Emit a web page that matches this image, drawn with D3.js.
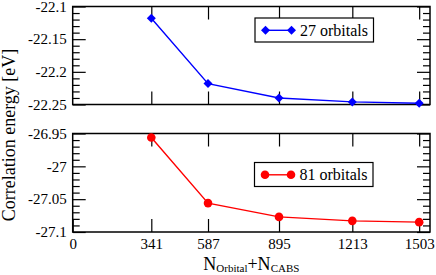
<!DOCTYPE html>
<html>
<head>
<meta charset="utf-8">
<script src="https://cdn.jsdelivr.net/npm/d3@7"></script>
<style>
  body { margin: 0; background: #fff; }
  svg { display: block; }
  text { font-family: "Liberation Serif", "DejaVu Serif", serif; fill: #000; }
</style>
</head>
<body>
<div id="chart"></div>
<script>
var svgWidth = 436;
var svgHeight = 275;

// x values (N_Orbital + N_CABS)
var basis = [341, 587, 895, 1213, 1503];
var xTicks = [0, 341, 587, 895, 1213, 1503];

// correlation energies [eV]
var e27 = [-22.118, -22.218, -22.240, -22.246, -22.248];
var e81 = [-26.956, -27.056, -27.077, -27.083, -27.085];

var topMajor = [-22.25, -22.2, -22.15, -22.1];
var topMinor = [-22.24, -22.23, -22.22, -22.21, -22.19, -22.18, -22.17, -22.16,
                -22.14, -22.13, -22.12, -22.11];
var botMajor = [-27.1, -27.05, -27, -26.95];
var botMinor = [-27.09, -27.08, -27.07, -27.06, -27.04, -27.03, -27.02, -27.01,
                -26.99, -26.98, -26.97, -26.96];

var left = 72.7, right = 430;
var serif = "'Liberation Serif', 'Times New Roman', serif";

var svg = d3.select("#chart")
  .append("svg")
  .attr("width", svgWidth)
  .attr("height", svgHeight)
  .attr("font-family", serif);

var x = d3.scaleLinear().domain([0, 1550]).range([left, right]);

var panels = [
  { y0: 6.5, y1: 104.5, domain: [-22.25, -22.1], major: topMajor, minor: topMinor,
    values: e27, color: "#0000ff", marker: "diamond", label: "27 orbitals",
    legend: { x: 255, y: 18 }, xLabels: false },
  { y0: 133.5, y1: 232, domain: [-27.1, -26.95], major: botMajor, minor: botMinor,
    values: e81, color: "#ff0000", marker: "circle", label: "81 orbitals",
    legend: { x: 254.5, y: 162.5 }, xLabels: true }
];

function drawMarker(g, type, cx, cy, color) {
  if (type === "circle") {
    g.append("circle").attr("cx", cx).attr("cy", cy).attr("r", 4.3).attr("fill", color);
  } else {
    var s = 4.5;
    g.append("path")
      .attr("d", `M${cx},${cy - s}L${cx + s},${cy}L${cx},${cy + s}L${cx - s},${cy}Z`)
      .attr("fill", color);
  }
}

panels.forEach(function(p) {
  var y = d3.scaleLinear().domain(p.domain).range([p.y1, p.y0]);
  var g = svg.append("g");
  var fmt = d => String(d);

  // x ticks bottom & top
  g.append("g").attr("transform", `translate(0,${p.y1})`)
    .call(d3.axisBottom(x).tickValues(p.xLabels ? xTicks : basis).tickSize(-13).tickPadding(6)
      .tickFormat(p.xLabels ? fmt : () => ""));
  g.append("g").attr("transform", `translate(0,${p.y0})`)
    .call(d3.axisTop(x).tickValues(basis).tickSize(-13).tickFormat(() => ""));

  // y ticks left & right, major + minor
  g.append("g").attr("transform", `translate(${left},0)`)
    .call(d3.axisLeft(y).tickValues(p.major).tickSize(-13).tickPadding(6).tickFormat(fmt));
  g.append("g").attr("transform", `translate(${left},0)`)
    .call(d3.axisLeft(y).tickValues(p.minor).tickSize(-7).tickFormat(() => ""));
  g.append("g").attr("transform", `translate(${right},0)`)
    .call(d3.axisRight(y).tickValues(p.major).tickSize(-13).tickFormat(() => ""));
  g.append("g").attr("transform", `translate(${right},0)`)
    .call(d3.axisRight(y).tickValues(p.minor).tickSize(-7).tickFormat(() => ""));

  g.selectAll(".domain").remove();
  g.selectAll("g").attr("font-family", serif).attr("font-size", 15);
  g.selectAll(".tick line").attr("stroke", "#000").attr("stroke-width", 1.2);
  g.selectAll(".tick text").attr("fill", "#000");

  // frame
  g.append("rect")
    .attr("x", left).attr("y", p.y0)
    .attr("width", right - left).attr("height", p.y1 - p.y0)
    .attr("fill", "none").attr("stroke", "#000").attr("stroke-width", 1.5);

  // data line + markers
  var line = d3.line().x((d, i) => x(basis[i])).y(d => y(d));
  g.append("path").datum(p.values)
    .attr("d", line).attr("fill", "none")
    .attr("stroke", p.color).attr("stroke-width", 1.4);
  p.values.forEach(function(v, i) {
    drawMarker(g, p.marker, x(basis[i]), y(v), p.color);
  });

  // legend
  var lg = g.append("g").attr("transform", `translate(${p.legend.x},${p.legend.y})`);
  lg.append("rect").attr("width", 118.5).attr("height", 24)
    .attr("fill", "#fff").attr("stroke", "#000").attr("stroke-width", 1.2);
  lg.append("line").attr("x1", 10.5).attr("x2", 36.5).attr("y1", 12.3).attr("y2", 12.3)
    .attr("stroke", p.color).attr("stroke-width", 1.4);
  drawMarker(lg, p.marker, 10.5, 12.3, p.color);
  drawMarker(lg, p.marker, 36.5, 12.3, p.color);
  lg.append("text").attr("x", 45).attr("y", 17.5)
    .attr("font-size", 16).text(p.label);
});

// axis titles
var xt = svg.append("text")
  .attr("x", (left + right) / 2).attr("y", 269.5)
  .attr("text-anchor", "middle")
  .attr("font-size", 18);
xt.append("tspan").text("N");
xt.append("tspan").attr("dy", 2.5).attr("font-size", 11).text("Orbital");
xt.append("tspan").attr("dy", -2.5).text("+N");
xt.append("tspan").attr("dy", 2.5).attr("font-size", 11).text("CABS");

svg.append("text")
  .attr("transform", "translate(15,135) rotate(-90)")
  .attr("text-anchor", "middle")
  .attr("font-size", 18)
  .text("Correlation energy [eV]");
</script>
</body>
</html>
